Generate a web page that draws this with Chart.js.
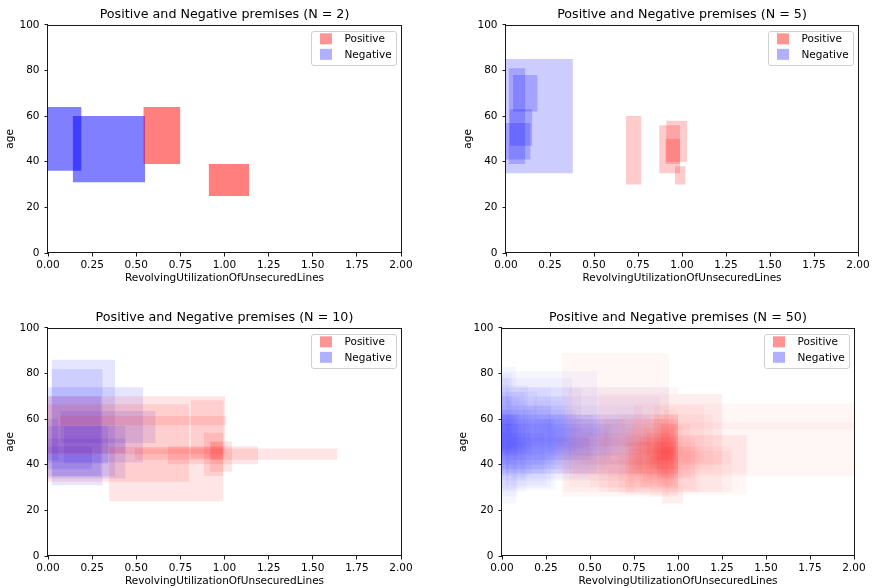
<!DOCTYPE html>
<html>
<head>
<meta charset="utf-8">
<script src="https://cdn.jsdelivr.net/npm/chart.js@4.4.1/dist/chart.umd.min.js"></script>
<style>
  body { margin: 0; background: #fff; }
  #wrap { position: relative; width: 874px; height: 588px; overflow: hidden; }
  canvas { position: absolute; }
</style>
</head>
<body>
<div id="wrap">
  <canvas id="n2" width="437" height="285" style="left:0px;top:0px"></canvas>
  <canvas id="n5" width="437" height="285" style="left:437px;top:0px"></canvas>
  <canvas id="n10" width="437" height="285" style="left:0px;top:303px"></canvas>
  <canvas id="n50" width="437" height="285" style="left:437px;top:303px"></canvas>
</div>
<script>
const xTicks = [0, 0.25, 0.5, 0.75, 1, 1.25, 1.5, 1.75, 2];
const xTickLabels = ['0.00', '0.25', '0.50', '0.75', '1.00', '1.25', '1.50', '1.75', '2.00'];
const yTicks = [0, 20, 40, 60, 80, 100];
const yTickLabels = ['0', '20', '40', '60', '80', '100'];
const legendLabels = ['Positive', 'Negative'];
const xTitle = 'RevolvingUtilizationOfUnsecuredLines';
const yTitle = 'age';

// each premise is [xFrom, xTo, ageFrom, ageTo]
const positiveN2 = [
  [0.54, 0.75, 39, 64],
  [0.91, 1.14, 25, 39]
];
const negativeN2 = [
  [0.00, 0.19, 36, 64],
  [0.14, 0.55, 31, 60]
];

const positiveN5 = [
  [0.68, 0.77, 30, 60],
  [0.87, 0.99, 35, 56],
  [0.91, 1.03, 40, 58],
  [0.905, 0.99, 39, 50],
  [0.96, 1.02, 30, 38]
];
const negativeN5 = [
  [0.00, 0.38, 35, 85],
  [0.015, 0.11, 39, 81],
  [0.04, 0.18, 62, 78],
  [0.02, 0.15, 47, 63],
  [0.00, 0.14, 41, 57]
];

const positiveN10 = [
  [0.00, 1.005, 44.6, 70],
  [0.346, 0.994, 24, 47.8],
  [0.00, 0.80, 32.5, 66.5],
  [0.81, 0.996, 42.7, 68.3],
  [0.066, 1.01, 57.3, 61.4],
  [0.49, 1.64, 42.2, 47.1],
  [0.68, 1.19, 40.2, 48.1],
  [0.883, 0.993, 35.1, 54],
  [0.917, 1.043, 36.9, 50.3],
  [0.92, 0.99, 42, 50]
];
const negativeN10 = [
  [0.02, 0.38, 35, 86],
  [0.02, 0.31, 31, 82],
  [0.00, 0.54, 41, 74],
  [0.00, 0.30, 35, 70],
  [0.07, 0.61, 49.5, 63.5],
  [0.09, 0.34, 40.5, 57],
  [0.00, 0.44, 34, 57],
  [0.00, 0.06, 42, 60],
  [0.00, 0.44, 45, 51.5],
  [0.00, 0.25, 38, 48]
];

const positiveN50 = [
  [0.34, 0.95, 26, 89], [0.75, 2.10, 35, 67], [0.85, 2.20, 55.5, 58.5], [0.70, 1.39, 27, 53],
  [0.55, 1.25, 28, 71], [0.60, 1.31, 28, 46], [0.91, 1.03, 23, 28], [0.38, 1.00, 30, 74],
  [0.66, 1.00, 27, 62], [0.70, 0.98, 33, 56], [0.85, 0.98, 38, 48], [0.80, 1.00, 36, 60],
  [0.87, 0.97, 40, 50], [0.90, 1.07, 34, 58], [0.72, 0.99, 38, 50], [0.78, 0.97, 30, 52],
  [0.75, 1.00, 40, 62], [0.40, 0.92, 35, 60], [0.88, 1.00, 30, 46], [0.82, 0.96, 42, 54],
  [0.92, 1.00, 36, 64], [0.80, 0.99, 44, 56], [0.95, 1.20, 38, 62], [0.70, 1.10, 29, 50],
  [0.78, 0.99, 45, 52], [0.84, 1.00, 38, 44], [0.86, 1.15, 41, 66], [0.30, 0.80, 36, 52],
  [0.90, 0.99, 42, 60], [0.72, 0.94, 32, 47], [0.93, 1.12, 28, 48], [0.58, 1.00, 48, 60],
  [0.84, 1.00, 26, 44], [0.45, 0.97, 40, 54], [0.88, 0.96, 35, 55], [0.96, 1.40, 36, 53],
  [0.88, 0.98, 34, 62], [0.76, 0.92, 38, 50], [0.90, 1.03, 44, 57], [0.86, 0.99, 42, 48],
  [0.35, 0.75, 28, 45], [0.80, 0.99, 31, 40], [0.92, 1.30, 40, 48], [0.50, 0.85, 30, 42],
  [0.86, 1.00, 46, 62], [0.74, 1.00, 36, 58], [0.91, 1.03, 23, 40], [0.90, 0.99, 44, 58],
  [1.00, 1.25, 40, 71], [0.82, 1.10, 34, 52]
];
const negativeN50 = [
  [0.00, 0.08, 23, 83], [0.00, 0.54, 36, 81], [0.00, 0.40, 38, 78], [0.02, 0.95, 36, 74],
  [0.00, 0.06, 40, 80], [0.00, 0.10, 45, 70], [0.00, 0.05, 52, 66], [0.00, 0.08, 44, 56],
  [0.00, 0.30, 29, 60], [0.05, 0.28, 30, 66], [0.00, 0.13, 33, 72], [0.00, 0.85, 46, 62],
  [0.00, 0.17, 35, 64], [0.03, 0.34, 40, 68], [0.00, 0.60, 38, 56], [0.00, 0.66, 44, 60],
  [0.00, 0.49, 47, 52], [0.00, 0.75, 48, 58], [0.00, 0.12, 37, 50], [0.08, 0.45, 42, 74],
  [0.00, 0.04, 30, 78], [0.00, 0.09, 26, 62], [0.10, 0.70, 33, 60], [0.00, 0.38, 50, 70],
  [0.00, 0.20, 40, 58], [0.12, 0.80, 36, 66], [0.00, 0.07, 47, 52], [0.00, 0.15, 55, 75],
  [0.02, 0.25, 31, 46], [0.00, 0.52, 42, 62], [0.00, 0.11, 42, 60], [0.18, 0.90, 40, 70],
  [0.00, 0.05, 35, 70], [0.00, 0.28, 56, 74], [0.06, 0.50, 34, 52], [0.00, 0.18, 44, 50],
  [0.00, 0.42, 45, 64], [0.00, 0.14, 28, 56], [0.20, 0.62, 42, 58], [0.00, 0.07, 56, 62],
  [0.00, 0.24, 36, 54], [0.04, 0.36, 48, 66], [0.00, 0.10, 50, 58], [0.00, 0.56, 52, 62],
  [0.00, 0.31, 38, 48], [0.00, 0.03, 40, 64], [0.26, 0.75, 44, 62], [0.00, 0.20, 60, 72],
  [0.00, 0.16, 46, 54], [0.00, 0.09, 57, 62]
];

const legendColors = ['rgba(255, 0, 0, 0.42)', 'rgba(0, 0, 255, 0.31)'];
const font = '"DejaVu Sans", sans-serif';

Chart.defaults.font.family = font;
Chart.defaults.color = '#000';

// a premise is a flat top edge filled down to its lower age
function rectDatasets(rects, color) {
  return rects.map(([x0, x1, y0, y1]) => ({
    data: [{ x: x0, y: y1 }, { x: x1, y: y1 }],
    fill: { value: y0 },
    backgroundColor: color,
    borderColor: 'transparent',
    borderWidth: 0,
    pointRadius: 0,
    tension: 0
  }));
}

// top/right spines and the boxed legend
const framePlugin = {
  id: 'frame',
  afterDraw(chart) {
    const { ctx, chartArea: a } = chart;
    ctx.save();
    ctx.strokeStyle = '#1a1a1a';
    ctx.lineWidth = 1;
    ctx.strokeRect(Math.round(a.left) - 0.5, Math.round(a.top) + 0.5,
      Math.round(a.right) - Math.round(a.left) + 1, Math.round(a.bottom) - Math.round(a.top) - 1);

    const r = a.right, t = a.top;
    ctx.beginPath();
    ctx.roundRect(Math.round(r - 90) + 0.5, Math.round(t + 6) + 0.5, 85, 34, 2.5);
    ctx.fillStyle = 'rgba(255, 255, 255, 0.8)';
    ctx.fill();
    ctx.strokeStyle = '#d0d0d0';
    ctx.stroke();

    ctx.font = '10.5px ' + font;
    ctx.textBaseline = 'middle';
    legendLabels.forEach((label, i) => {
      ctx.fillStyle = legendColors[i];
      ctx.fillRect(r - 81, t + 8.5 + i * 15.5, 12, 11);
      ctx.fillStyle = '#000';
      ctx.fillText(label, r - 56.5, t + 14.5 + i * 15.5);
    });
    ctx.restore();
  }
};

function makeChart(id, n, positives, negatives, alpha, yWidth, rightPad, yTitlePad) {
  const ctx = document.getElementById(id).getContext('2d');
  return new Chart(ctx, {
    type: 'line',
    data: {
      datasets: [
        ...rectDatasets(positives, 'rgba(255, 0, 0, ' + alpha + ')'),
        ...rectDatasets(negatives, 'rgba(0, 0, 255, ' + alpha + ')')
      ]
    },
    options: {
      responsive: false,
      animation: false,
      devicePixelRatio: 1,
      layout: { padding: { left: 0, right: rightPad, top: 0, bottom: 0 } },
      plugins: {
        legend: { display: false },
        tooltip: { enabled: false },
        title: {
          display: true,
          fullSize: false,
          text: 'Positive and Negative premises (N = ' + n + ')',
          font: { size: 12.7, weight: 'normal' },
          color: '#000',
          padding: { top: 6.6, bottom: 3 }
        }
      },
      scales: {
        x: {
          type: 'linear',
          min: 0,
          max: 2,
          afterBuildTicks: (scale) => { scale.ticks = xTicks.map(v => ({ value: v })); },
          afterFit: (scale) => { scale.height = 32; },
          ticks: {
            autoSkip: false,
            maxRotation: 0,
            padding: 2.5,
            font: { size: 10.5 },
            callback: (v, i) => xTickLabels[i]
          },
          grid: { drawOnChartArea: false, drawTicks: true, tickLength: 3.5, color: '#1a1a1a' },
          border: { display: false },
          title: { display: true, text: xTitle, font: { size: 10.5 }, padding: { top: 0, bottom: 0 } }
        },
        y: {
          type: 'linear',
          min: 0,
          max: 100,
          afterBuildTicks: (scale) => { scale.ticks = yTicks.map(v => ({ value: v })); },
          afterFit: (scale) => { scale.width = yWidth; },
          ticks: {
            padding: 5,
            font: { size: 10.5 },
            callback: (v, i) => yTickLabels[i]
          },
          grid: { drawOnChartArea: false, drawTicks: true, tickLength: 3.5, color: '#1a1a1a' },
          border: { display: false },
          title: { display: true, text: yTitle, font: { size: 10.5 }, padding: { top: yTitlePad, bottom: 0 } }
        }
      }
    },
    plugins: [framePlugin]
  });
}

makeChart('n2', 2, positiveN2, negativeN2, 0.5, 48, 36, 4);
makeChart('n5', 5, positiveN5, negativeN5, 0.2, 69, 16, 25);
makeChart('n10', 10, positiveN10, negativeN10, 0.1, 48, 36, 4);
makeChart('n50', 50, positiveN50, negativeN50, 0.035, 65, 20, 20);
</script>
</body>
</html>
